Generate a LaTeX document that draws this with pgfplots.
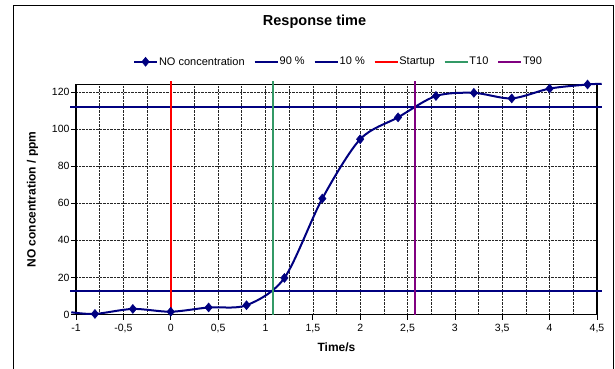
\documentclass[border=0pt]{standalone}
\usepackage{fontspec}
\setmainfont{Liberation Sans}
\usepackage{pgfplots}
\pgfplotsset{compat=1.18}
\definecolor{navyc}{HTML}{000080}
\definecolor{redc}{HTML}{FF0000}
\definecolor{greenc}{HTML}{339966}
\definecolor{purplec}{HTML}{800080}
\begin{document}
\begin{tikzpicture}
\begin{axis}[
  scale only axis, width=521pt, height=230pt,
  xmin=-1, xmax=4.5, ymin=0, ymax=124,
  clip=false,
  xtick={-1,-0.5,0,0.5,1,1.5,2,2.5,3,3.5,4,4.5},
  minor xtick={-0.75,-0.25,0.25,0.75,1.25,1.75,2.25,2.75,3.25,3.75,4.25},
  ytick={0,20,40,60,80,100,120},
  xtick pos=left, ytick pos=left,
  tick align=outside, major tick length=5pt, minor tick length=0pt,
  grid=both,
  major grid style={black!85, densely dotted, line width=0.6pt},
  minor grid style={black!85, densely dotted, line width=0.6pt},
  axis line style={black, line width=1.1pt},
  tick style={black, line width=0.8pt},
  /pgf/number format/assume math mode=true,
  /pgf/number format/use comma,
  ticklabel style={font=\fontsize{10.5}{12}\selectfont},
  yticklabel style={xshift=2pt},
  xticklabel style={yshift=-1.5pt},
  xlabel={Time/s}, ylabel={NO concentration / ppm},
  label style={font=\bfseries\fontsize{12}{14}\selectfont},
  xlabel style={at={(axis description cs:0.5,-0.1414)}, anchor=center},
  ylabel style={at={(axis description cs:-0.0835,0.5)}, anchor=center},
  title={Response time},
  title style={at={(axis description cs:0.4578,1.248)}, anchor=center, font=\bfseries\fontsize{14.5}{17}\selectfont},
  legend columns=6,
  legend style={draw=none, fill=none, at={(axis description cs:0.5029,1.0988)}, anchor=center,
    font=\fontsize{11}{13}\selectfont,
    /tikz/every even column/.append style={column sep=8pt},
    nodes={inner xsep=1pt, inner ysep=1pt}},
  legend image code/.code={\draw[mark repeat=2,mark phase=2,#1] plot coordinates {(0pt,0pt) (11.5pt,0pt) (23pt,0pt)};},
]
\coordinate (O) at (rel axis cs:0,0);
\addplot[navyc, line width=2pt, smooth, tension=0.5, mark=diamond*, mark size=4.5pt,
  mark options={solid, fill=navyc, line width=0.5pt, xscale=1.1},
  mark indices={2,3,4,5,6,7,8,9,10,11,12,13,14,15}, forget plot] coordinates {
  (-1.05,1.2) (-0.8,0.3) (-0.4,3.0) (0,1.5) (0.4,3.8) (0.8,5.0) (1.2,19.7) (1.6,62.5)
  (2.0,94.5) (2.4,106.3) (2.8,117.8) (3.2,119.5) (3.6,116.5) (4.0,121.8) (4.4,124.0) (4.55,124.4)};
\addlegendimage{navyc, line width=2pt, mark=diamond*, mark size=4.5pt,
  mark options={solid, fill=navyc, line width=0.5pt, xscale=1.1}}
\addlegendentry{NO concentration}
\addplot[navyc, line width=2pt] coordinates {(-1.06,112) (4.55,112)};
\addlegendentry{90 \%}
\addplot[navyc, line width=2pt] coordinates {(-1.06,12.5) (4.55,12.5)};
\addlegendentry{10 \%}
\addplot[redc, line width=1.6pt] coordinates {(0,0) (0,126)};
\addlegendentry{Startup}
\addplot[greenc, line width=1.6pt] coordinates {(1.08,0) (1.08,126)};
\addlegendentry{T10}
\addplot[purplec, line width=1.6pt] coordinates {(2.58,0) (2.58,126)};
\addlegendentry{T90}
\end{axis}
\draw[black, line width=0.8pt] ([shift={(-63pt,-60pt)}]O) rectangle ([shift={(537pt,309.5pt)}]O);
\pgfresetboundingbox
\path[use as bounding box] ([shift={(-76pt,-54.5pt)}]O) rectangle ([shift={(539pt,314.5pt)}]O);
\end{tikzpicture}
\end{document}
